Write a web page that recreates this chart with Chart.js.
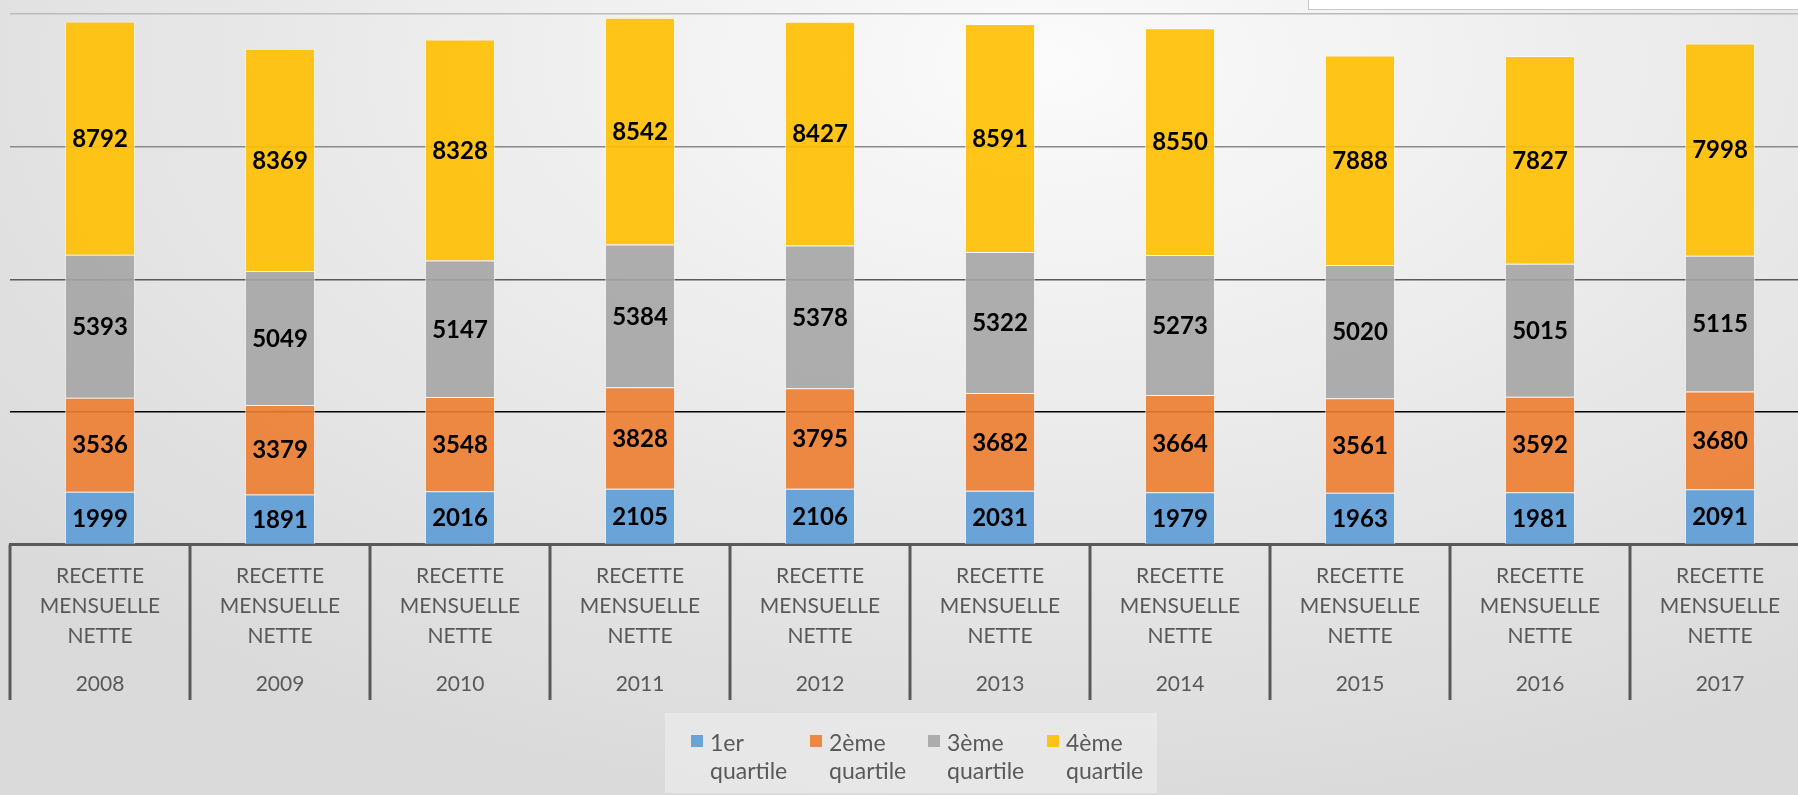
<!DOCTYPE html>
<html>
<head>
<meta charset="utf-8">
<script src="https://cdn.jsdelivr.net/npm/chart.js@4/dist/chart.umd.min.js"></script>
<style>
  html, body { margin: 0; padding: 0; }
  body {
    width: 1798px; height: 795px; overflow: hidden; position: relative;
    background: radial-gradient(ellipse 75% 95% at 58% 8%, #fbfbfb 0%, #ececec 45%, #dadada 100%);
    font-family: Lato, "Open Sans", sans-serif;
  }
  #wrap { position: absolute; left: 0; top: 0; width: 1820px; height: 795px; }
  #topbox {
    position: absolute; left: 1308px; top: -3px; width: 500px; height: 11px;
    background: #fff; border: 1.5px solid #c6c6c6;
  }
  #legend {
    position: absolute; left: 665px; top: 713px; width: 492px; height: 80px;
    background: rgba(238,238,238,0.6);
  }
  .item { position: absolute; top: 15px; color: #595959; font-size: 23px; line-height: 28px; }
  .item .sw { position: absolute; left: -19px; top: 7px; width: 12px; height: 12px; }
</style>
</head>
<body>
<div id="wrap"><canvas id="chart" width="1820" height="795"></canvas></div>
<div id="topbox"></div>
<div id="legend"></div>
<script>
var years = ['2008','2009','2010','2011','2012','2013','2014','2015','2016','2017']
var catLabel = ['RECETTE','MENSUELLE','NETTE']
var seriesNames = ['1er quartile','2ème quartile','3ème quartile','4ème quartile']
var q1 = [1999,1891,2016,2105,2106,2031,1979,1963,1981,2091]
var q2 = [3536,3379,3548,3828,3795,3682,3664,3561,3592,3680]
var q3 = [5393,5049,5147,5384,5378,5322,5273,5020,5015,5115]
var q4 = [8792,8369,8328,8542,8427,8591,8550,7888,7827,7998]
var colors = ['rgba(91,155,213,0.9)','rgba(237,125,49,0.9)','rgba(165,165,165,0.9)','rgba(255,192,0,0.9)']
var yTicks = [0,5000,10000,15000,20000]
var gridColors = { 5000: '#000000', 10000: '#5a5a5a', 15000: '#8a8a8a', 20000: '#bcbcbc' }

var valueLabels = {
  id: 'valueLabels',
  afterDatasetsDraw(chart) {
    var ctx = chart.ctx
    ctx.save()
    ctx.font = 'bold 24px Lato'
    ctx.fillStyle = '#000'
    ctx.textAlign = 'center'
    ctx.textBaseline = 'middle'
    chart.data.datasets.forEach(function(ds, i) {
      chart.getDatasetMeta(i).data.forEach(function(bar, j) {
        ctx.fillText(ds.data[j], bar.x, (bar.y + bar.base) / 2 + 1)
      })
    })
    ctx.restore()
  }
}

// category separators running down through both label rows
var separators = {
  id: 'separators',
  afterDraw(chart) {
    var sx = chart.scales.x, sx2 = chart.scales.x2
    var ctx = chart.ctx
    ctx.save()
    ctx.strokeStyle = '#595959'
    ctx.lineWidth = 3
    for (let i = 0; i <= years.length; i++) {
      var px = sx.getPixelForValue(i - 0.5)
      ctx.beginPath()
      ctx.moveTo(px, sx.top)
      ctx.lineTo(px, sx2.bottom)
      ctx.stroke()
    }
    ctx.restore()
  }
}

var allData = [q1, q2, q3, q4]
var datasets = []
for (let i = 0; i < 4; i++) {
  datasets.push({
    label: seriesNames[i],
    data: allData[i],
    backgroundColor: colors[i],
    borderColor: 'rgba(255,255,255,0.6)',
    borderWidth: 1,
    barPercentage: 0.39,
    categoryPercentage: 1
  })
}

var ctx = document.getElementById('chart').getContext('2d')
var myChart = new Chart(ctx, {
  type: 'bar',
  data: {
    labels: years.map(function() { return catLabel }),
    datasets: datasets
  },
  plugins: [valueLabels, separators],
  options: {
    responsive: false,
    animation: false,
    devicePixelRatio: 1,
    layout: { padding: { left: 10, right: 10, top: 14, bottom: 95 } },
    plugins: { legend: { display: false }, tooltip: { enabled: false } },
    scales: {
      x: {
        stacked: true,
        offset: true,
        border: { display: true, color: '#595959', width: 3 },
        grid: { offset: true, drawOnChartArea: false, drawTicks: false },
        ticks: { autoSkip: false, maxRotation: 0, padding: 17, color: '#595959', font: { family: 'Lato', size: 21, lineHeight: 1.42 } }
      },
      x2: {
        type: 'category',
        labels: years,
        offset: true,
        border: { display: false },
        grid: { display: false, drawTicks: false },
        ticks: { autoSkip: false, maxRotation: 0, padding: 1, color: '#595959', font: { family: 'Lato', size: 21, lineHeight: 1.42 } }
      },
      y: {
        stacked: true,
        min: 0,
        max: 20000,
        afterBuildTicks: function(axis) { axis.ticks = yTicks.map(function(v) { return { value: v } }) },
        border: { display: false },
        grid: {
          drawTicks: false,
          lineWidth: 1.6,
          color: function(c) { return gridColors[c.tick.value] || 'rgba(0,0,0,0)' }
        },
        ticks: { display: false }
      }
    }
  }
})

// legend built from the same series names / colours
var legend = document.getElementById('legend')
var lefts = [45, 164, 282, 401]
seriesNames.forEach(function(name, i) {
  var parts = name.split(' ')
  var div = document.createElement('div')
  div.className = 'item'
  div.style.left = lefts[i] + 'px'
  div.innerHTML = '<span class="sw" style="background:' + colors[i] + '"></span>' + parts[0] + '<br>' + parts[1]
  legend.appendChild(div)
})
</script>
</body>
</html>
